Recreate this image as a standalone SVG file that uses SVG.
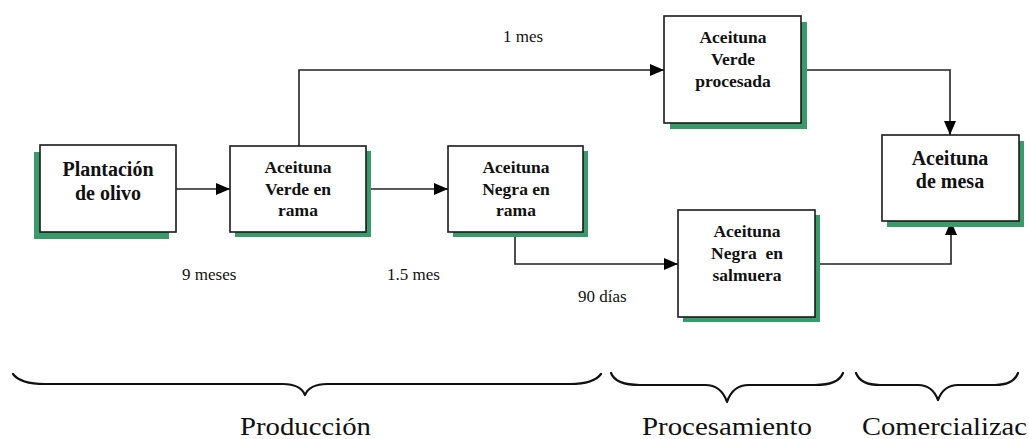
<svg xmlns="http://www.w3.org/2000/svg" width="1029" height="439" viewBox="0 0 1029 439">
<defs>
<style>
.box{fill:#fff;stroke:#1a1a1a;stroke-width:1.6}
.sh{fill:#3a9a6a}
.bt{font-family:"Liberation Serif",serif;font-weight:bold;font-size:17.5px;fill:#111;text-anchor:middle}
.lbl{font-family:"Liberation Serif",serif;font-size:17px;fill:#111}
.big{font-family:"Liberation Serif",serif;font-size:25px;fill:#111}
.con{fill:none;stroke:#222;stroke-width:1.6}
.brace{fill:none;stroke:#111;stroke-width:2.2;stroke-linecap:round;stroke-linejoin:round}
</style>
<marker id="arr" markerWidth="14" markerHeight="12" refX="14" refY="6" orient="auto" markerUnits="userSpaceOnUse">
<path d="M0,0 L14,6 L0,12 Z" fill="#000"/>
</marker>
</defs>
<rect width="1029" height="439" fill="#fff"/>

<g id="connectors">
<line class="con" x1="176" y1="189" x2="230" y2="189" marker-end="url(#arr)"/>
<line class="con" x1="366" y1="189" x2="448" y2="189" marker-end="url(#arr)"/>
<polyline class="con" points="299,146 299,70 664,70" marker-end="url(#arr)"/>
<polyline class="con" points="801,70 950,70 950,135" marker-end="url(#arr)"/>
<polyline class="con" points="515,232 515,264 678,264" marker-end="url(#arr)"/>
<polyline class="con" points="815,264 951,264 951,221" marker-end="url(#arr)"/>
</g>

<g id="n1">
<rect class="sh" x="34" y="152" width="135" height="87"/>
<rect class="box" x="40" y="145" width="136" height="87"/>
<text class="bt" style="font-size:20px" x="108" y="176">Plantación</text>
<text class="bt" style="font-size:20px" x="108" y="200">de olivo</text>
</g>

<g id="n2">
<rect class="sh" x="235" y="151" width="136" height="86"/>
<rect class="box" x="230" y="146" width="136" height="86"/>
<text class="bt" x="298" y="173">Aceituna</text>
<text class="bt" x="298" y="195">Verde en</text>
<text class="bt" x="298" y="216">rama</text>
</g>

<g id="n3">
<rect class="sh" x="453" y="151" width="135" height="86"/>
<rect class="box" x="448" y="146" width="135" height="86"/>
<text class="bt" x="516" y="173">Aceituna</text>
<text class="bt" x="516" y="195">Negra en</text>
<text class="bt" x="516" y="216">rama</text>
</g>

<g id="n4">
<rect class="sh" x="670" y="22" width="137" height="107"/>
<rect class="box" x="664" y="16" width="137" height="107"/>
<text class="bt" x="733" y="43">Aceituna</text>
<text class="bt" x="733" y="65">Verde</text>
<text class="bt" x="733" y="87">procesada</text>
</g>

<g id="n5">
<rect class="sh" x="887" y="141" width="137" height="86"/>
<rect class="box" x="882" y="135" width="137" height="86"/>
<text class="bt" style="font-size:20px" x="950" y="165">Aceituna</text>
<text class="bt" style="font-size:20px" x="950" y="188">de mesa</text>
</g>

<g id="n6">
<rect class="sh" x="683" y="215" width="137" height="107"/>
<rect class="box" x="678" y="210" width="137" height="107"/>
<text class="bt" x="747" y="237">Aceituna</text>
<text class="bt" x="747" y="259" xml:space="preserve">Negra  en</text>
<text class="bt" x="747" y="281">salmuera</text>
</g>

<g id="labels">
<text class="lbl" x="503" y="42">1 mes</text>
<text class="lbl" x="182" y="280">9 meses</text>
<text class="lbl" x="387" y="280">1.5 mes</text>
<text class="lbl" x="578" y="302">90 días</text>
</g>

<g id="braces">
<path class="brace" d="M13,374 C18,381 28,384 45,384 L283,384 C296,384 302,388 305,395 C308,388 314,384 327,384 L570,384 C587,384 596,381 601,374"/>
<path class="brace" d="M611,373 C614,381 624,385 640,385 L705,385 C718,385 724,393 727,402 C730,393 736,385 749,385 L815,385 C831,385 840,381 843,373"/>
<path class="brace" d="M856,373 C859,381 867,385 880,385 L918,385 C930,385 935,392 938,400 C941,392 946,385 958,385 L995,385 C1008,385 1015,381 1018,373"/>
<text class="big" x="240" y="435" textLength="131" lengthAdjust="spacingAndGlyphs">Producción</text>
<text class="big" x="642" y="435" textLength="170" lengthAdjust="spacingAndGlyphs">Procesamiento</text>
<text class="big" x="862" y="435" textLength="165" lengthAdjust="spacingAndGlyphs">Comercializac</text>
</g>
</svg>
